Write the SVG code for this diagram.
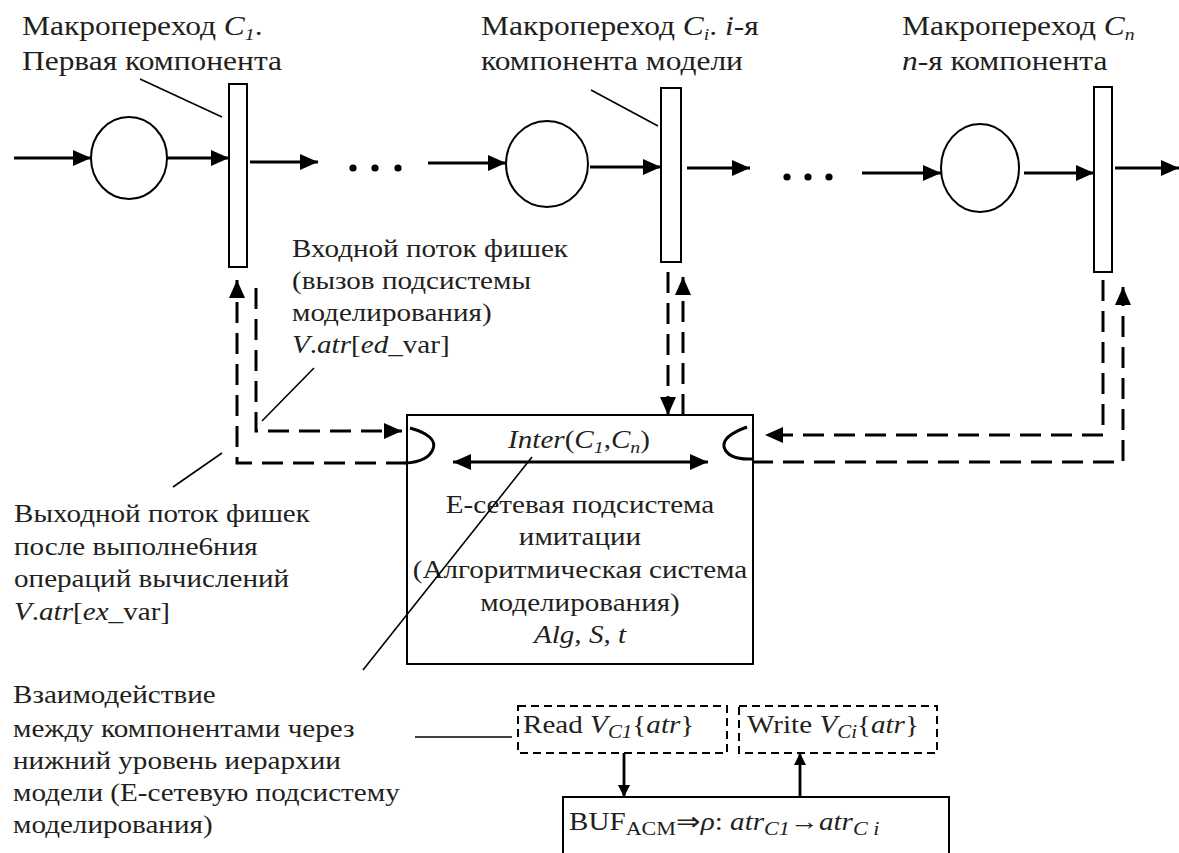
<svg xmlns="http://www.w3.org/2000/svg" width="1179" height="853" viewBox="0 0 1179 853">
<style>
text{font-family:"Liberation Serif","Times New Roman",serif;fill:#231f20;}
.t27{font-size:27px;}
.t25{font-size:25px;}
.i{font-style:italic;}
.node{fill:#fff;stroke:#000;stroke-width:2;}
.arr{stroke:#000;stroke-width:2.8;fill:none;}
.lead{stroke:#000;stroke-width:1.6;fill:none;}
.dash{stroke:#000;stroke-width:3;fill:none;stroke-dasharray:21 10;}
.dbox{fill:none;stroke:#000;stroke-width:2;stroke-dasharray:8 5;}
.hook{fill:none;stroke:#000;stroke-width:3;}
</style>
<defs>
<marker id="ah" markerUnits="userSpaceOnUse" markerWidth="18" markerHeight="16" viewBox="0 0 18 16" refX="18" refY="8" orient="auto-start-reverse"><path d="M0,0 L18,8 L0,16 z" fill="#000"/></marker>
<marker id="as" markerUnits="userSpaceOnUse" markerWidth="12" markerHeight="12" viewBox="0 0 12 12" refX="12" refY="6" orient="auto"><path d="M0,0 L12,6 L0,12 z" fill="#000"/></marker>
</defs>

<g id="place1"><ellipse class="node" cx="129" cy="158" rx="38" ry="41"/></g>
<g id="trans1"><rect class="node" x="229" y="84" width="18" height="183"/></g>
<g id="place2"><ellipse class="node" cx="547" cy="164" rx="41" ry="43"/></g>
<g id="trans2"><rect class="node" x="661" y="88" width="20" height="174"/></g>
<g id="place3"><ellipse class="node" cx="980" cy="168" rx="39" ry="44"/></g>
<g id="trans3"><rect class="node" x="1094" y="87" width="18" height="185"/></g>

<g id="dots1"><circle cx="353" cy="168" r="3.6"/><circle cx="375" cy="168" r="3.6"/><circle cx="398" cy="168" r="3.6"/></g>
<g id="dots2"><circle cx="787" cy="177" r="3.6"/><circle cx="808" cy="177" r="3.6"/><circle cx="829" cy="177" r="3.6"/></g>

<g id="esystem">
<rect class="node" x="407" y="415" width="346" height="249"/>
<path class="hook" d="M410,428 Q438,436 433,449 Q428,462 405,463"/>
<path class="hook" d="M747,427 Q722,436 724,447 Q728,460 752,459"/>
<g transform="scale(1.165 1)">
<text class="t25 i" x="497" y="448" text-anchor="middle">Inter<tspan font-style="normal">(</tspan>C<tspan font-size="17" dy="5">1</tspan><tspan font-style="normal" dy="-5">,</tspan>C<tspan font-size="17" dy="5">n</tspan><tspan font-style="normal" dy="-5">)</tspan></text>
<text class="t25" x="497.85" y="513" text-anchor="middle">Е-сетевая подсистема</text>
<text class="t25" x="497.85" y="545" text-anchor="middle">имитации</text>
<text class="t25" x="497.85" y="578" text-anchor="middle">(Алгоритмическая система</text>
<text class="t25" x="497.85" y="611" text-anchor="middle">моделирования)</text>
<text class="t25 i" x="497.85" y="643" text-anchor="middle">Alg, S, t</text>
</g>
</g>

<g id="readbox">
<rect class="dbox" x="518" y="706" width="209" height="47"/>
<text class="t25" transform="scale(1.165 1)" x="448.93" y="733">Read <tspan class="i">V</tspan><tspan class="i" font-size="18" dy="5">C1</tspan><tspan dy="-5">{</tspan><tspan class="i">atr</tspan>}</text>
</g>
<g id="writebox">
<rect class="dbox" x="739" y="706" width="198" height="47"/>
<text class="t25" transform="scale(1.165 1)" x="641.2" y="733">Write <tspan class="i">V</tspan><tspan class="i" font-size="18" dy="5">Ci</tspan><tspan dy="-5">{</tspan><tspan class="i">atr</tspan>}</text>
</g>
<g id="buffer">
<rect class="node" x="563" y="797" width="386" height="70"/>
<text class="t25" transform="scale(1.165 1)" x="488.41" y="830">BUF<tspan font-size="19" dy="5">ACM</tspan><tspan dy="-5">⇒</tspan><tspan class="i">ρ</tspan>: <tspan class="i">atr</tspan><tspan class="i" font-size="19" dy="5">C1</tspan><tspan dy="-5">→</tspan><tspan class="i">atr</tspan><tspan class="i" font-size="19" dy="5">C i</tspan></text>
</g>

<g id="labels" transform="scale(1.165 1)">
<text class="t27" x="18.88" y="35">Макропереход <tspan class="i">C</tspan><tspan class="i" font-size="17" dy="5">1</tspan><tspan dy="-5">.</tspan></text>
<text class="t27" x="18.88" y="70">Первая компонента</text>
<text class="t27" x="412.88" y="35">Макропереход <tspan class="i">C</tspan><tspan class="i" font-size="17" dy="5">i</tspan><tspan dy="-5">. </tspan><tspan class="i">i</tspan>-я</text>
<text class="t27" x="412.88" y="70">компонента модели</text>
<text class="t27" x="774.25" y="35">Макропереход <tspan class="i">C</tspan><tspan class="i" font-size="17" dy="5">n</tspan></text>
<text class="t27" x="774.25" y="70"><tspan class="i">n</tspan>-я компонента</text>

<text class="t25" x="250.64" y="257">Входной поток фишек</text>
<text class="t25" x="250.64" y="289">(вызов подсистемы</text>
<text class="t25" x="250.64" y="321">моделирования)</text>
<text class="t25" x="250.64" y="353"><tspan class="i">V</tspan>.<tspan class="i">atr</tspan>[<tspan class="i">ed</tspan>_var]</text>

<text class="t25" x="12.02" y="522">Выходной поток фишек</text>
<text class="t25" x="12.02" y="555">после выполне6ния</text>
<text class="t25" x="12.02" y="587">операций вычислений</text>
<text class="t25" x="12.02" y="620"><tspan class="i">V</tspan>.<tspan class="i">atr</tspan>[<tspan class="i">ex</tspan>_var]</text>

<text class="t25" x="11.16" y="703">Взаимодействие</text>
<text class="t25" x="11.16" y="737">между компонентами через</text>
<text class="t25" x="11.16" y="769">нижний уровень иерархии</text>
<text class="t25" x="11.16" y="801">модели (Е-сетевую подсистему</text>
<text class="t25" x="11.16" y="833">моделирования)</text>
</g>

<g id="connectors">
<line class="arr" x1="14" y1="158" x2="91" y2="158" marker-end="url(#ah)"/>
<line class="arr" x1="167" y1="158" x2="229" y2="158" marker-end="url(#ah)"/>
<line class="arr" x1="250" y1="162" x2="318" y2="162" marker-end="url(#ah)"/>
<line class="arr" x1="428" y1="163" x2="506" y2="163" marker-end="url(#ah)"/>
<line class="arr" x1="590" y1="167" x2="661" y2="167" marker-end="url(#ah)"/>
<line class="arr" x1="687" y1="168" x2="750" y2="168" marker-end="url(#ah)"/>
<line class="arr" x1="862" y1="173" x2="941" y2="173" marker-end="url(#ah)"/>
<line class="arr" x1="1024" y1="173" x2="1094" y2="173" marker-end="url(#ah)"/>
<line class="arr" x1="1115" y1="168" x2="1179" y2="168" marker-end="url(#ah)"/>

<line class="lead" x1="140" y1="79" x2="222" y2="117"/>
<line class="lead" x1="591" y1="90" x2="658" y2="126"/>
<line class="lead" x1="314" y1="368" x2="262" y2="421"/>
<line class="lead" x1="222" y1="453" x2="173" y2="487"/>
<line class="lead" x1="532" y1="457" x2="363" y2="670"/>
<line class="lead" x1="415" y1="737" x2="512" y2="737"/>

<path class="dash" d="M256,288 V431 H402" marker-end="url(#ah)"/>
<path class="dash" d="M407,463 H237 V280" marker-end="url(#ah)"/>
<path class="dash" d="M668,272 V415" marker-end="url(#ah)"/>
<path class="dash" d="M683,415 V277" marker-end="url(#ah)"/>
<path class="dash" d="M1103,280 V435 H765" marker-end="url(#ah)"/>
<path class="dash" d="M752,462 H1123 V287" marker-end="url(#ah)"/>

<line class="arr" x1="453" y1="462" x2="708" y2="462" marker-start="url(#ah)" marker-end="url(#ah)"/>
<line class="arr" x1="624" y1="753" x2="624" y2="797" stroke-width="2.2" marker-end="url(#as)"/>
<line class="arr" x1="800" y1="797" x2="800" y2="753" stroke-width="2.2" marker-end="url(#as)"/>
</g>
</svg>
